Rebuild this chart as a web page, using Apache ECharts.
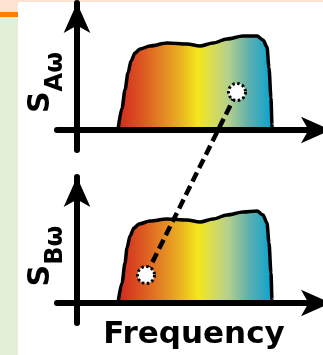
<!DOCTYPE html>
<html>
<head>
<meta charset="utf-8">
<script src="https://cdn.jsdelivr.net/npm/echarts@6/dist/echarts.min.js"></script>
<style>
  html, body { margin: 0; padding: 0; background: #ffffff; }
  #chart { width: 323px; height: 355px; }
</style>
</head>
<body>
<div id="chart"></div>
<script>
// Spectrum outline of signal A: [frequency, spectral density]
var spectrumA = [
  [2.05, 0], [2.25, 1.1], [2.4, 2.0], [2.55, 2.85], [2.7, 3.45], [2.9, 3.85], [3.15, 4.05],
  [3.65, 4.2], [4.5, 4.35], [5.5, 4.3], [6.15, 4.2], [6.8, 4.35], [7.5, 4.55],
  [8.3, 4.7], [9.0, 4.7], [9.3, 4.5], [9.5, 4.15], [9.6, 3.1], [9.7, 1.6],
  [9.75, 0.25], [9.75, 0]
];
// Spectrum outline of signal B
var spectrumB = [
  [2.05, 0], [2.25, 1.0], [2.4, 2.0], [2.5, 2.75], [2.65, 3.35], [2.85, 3.75], [3.1, 3.95],
  [3.65, 4.1], [4.5, 4.2], [5.5, 4.15], [6.15, 4.05], [6.8, 4.2], [7.5, 4.4],
  [8.3, 4.55], [9.0, 4.6], [9.3, 4.4], [9.5, 4.0], [9.6, 3.0], [9.7, 1.5],
  [9.75, 0.15], [9.75, 0]
];
// Sampled points linked between the two spectra
var pointA = [8.0, 1.9];
var pointB = [3.45, 1.4];

var axisLabelA = '{s|S}{sub|Aω}';
var axisLabelB = '{s|S}{sub|Bω}';
var freqLabel = 'Frequency';

var FONT = '"DejaVu Sans", sans-serif';

var rainbow = new echarts.graphic.LinearGradient(0, 0, 1, 0, [
  { offset: 0.00, color: '#d02a1f' },
  { offset: 0.15, color: '#dc5522' },
  { offset: 0.30, color: '#e48a24' },
  { offset: 0.42, color: '#ebb821' },
  { offset: 0.52, color: '#f3e81b' },
  { offset: 0.62, color: '#d4dc5c' },
  { offset: 0.72, color: '#b2cf8e' },
  { offset: 0.85, color: '#5eb0ad' },
  { offset: 1.00, color: '#0aa2d2' }
]);

var nameRich = {
  s: { fontFamily: FONT, fontWeight: 'bold', fontSize: 30, color: '#000' },
  sub: { fontFamily: FONT, fontWeight: 'bold', fontSize: 24, color: '#000', padding: [30, 0, 0, 0] }
};

var arrowLine = { color: '#000', width: 6 };

function xAxisFor(gridIndex, withName) {
  var ax = {
    type: 'value', gridIndex: gridIndex, min: -1, max: 12.7, z: 3,
    axisLine: { show: true, onZero: true, symbol: ['none', 'arrow'], symbolSize: [20, 30],
      lineStyle: arrowLine },
    axisTick: { show: false }, axisLabel: { show: false }, splitLine: { show: false }
  };
  if (withName) {
    ax.name = freqLabel;
    ax.nameLocation = 'middle';
    ax.nameGap = -4;
    ax.nameTextStyle = { fontFamily: FONT, fontWeight: 'bold', fontSize: 31, color: '#000' };
  }
  return ax;
}

function yAxisFor(gridIndex, max, label) {
  return {
    type: 'value', gridIndex: gridIndex, min: -1, max: max, z: 3,
    name: label, nameLocation: 'middle', nameRotate: 90, nameGap: -11,
    nameTextStyle: { rich: nameRich, padding: [0, 12, 0, 0] },
    axisLine: { show: true, onZero: true, symbol: ['none', 'arrow'], symbolSize: [20, 30],
      lineStyle: arrowLine },
    axisTick: { show: false }, axisLabel: { show: false }, splitLine: { show: false }
  };
}

function spectrumSeries(idx, data) {
  return {
    type: 'line', xAxisIndex: idx, yAxisIndex: idx, data: data,
    smooth: 0.3, smoothMonotone: 'x', showSymbol: false, z: 2,
    lineStyle: { color: '#000', width: 3.5 },
    areaStyle: { color: rainbow, opacity: 1 },
    silent: true
  };
}

function dotSeries(idx, pt) {
  return {
    type: 'scatter', xAxisIndex: idx, yAxisIndex: idx, data: [pt], z: 6,
    symbol: 'circle', symbolSize: 17,
    itemStyle: { color: '#ffffff', borderColor: '#000', borderWidth: 3, borderType: [2.5, 2.5], opacity: 1 },
    silent: true
  };
}

var chart = echarts.init(document.getElementById('chart'), null, { renderer: 'canvas' });

var backdrop = [
  { type: 'rect', id: 'topStrip', left: 0, top: 0, z: -1, shape: { width: 323, height: 2 }, style: { fill: '#fde3cf' } },
  { type: 'rect', id: 'sidePeach', left: 0, top: 0, z: -1, shape: { width: 18, height: 12 }, style: { fill: '#fde3cf' } },
  { type: 'rect', id: 'sideOrange', left: 0, top: 12, z: -1, shape: { width: 18, height: 5 }, style: { fill: '#fb7d0a' } },
  { type: 'rect', id: 'sideGreen', left: 0, top: 17, z: -1, shape: { width: 18, height: 338 }, style: { fill: '#e3f0d6' } }
];

chart.setOption({
  animation: false,
  backgroundColor: '#ffffff',
  grid: [
    { left: 57, width: 274, top: 3, height: 147, outerBoundsMode: 'none', containLabel: false },
    { left: 57, width: 274, top: 177, height: 146, outerBoundsMode: 'none', containLabel: false }
  ],
  xAxis: [xAxisFor(0, false), xAxisFor(1, true)],
  yAxis: [yAxisFor(0, 6.35, axisLabelA), yAxisFor(1, 6.3, axisLabelB)],
  series: [
    spectrumSeries(0, spectrumA),
    spectrumSeries(1, spectrumB),
    dotSeries(0, pointA),
    dotSeries(1, pointB)
  ],
  graphic: backdrop
});

// Dashed link between the two sampled points, placed through each panel's scales
var pa = chart.convertToPixel({ seriesIndex: 2 }, pointA);
var pb = chart.convertToPixel({ seriesIndex: 3 }, pointB);
chart.setOption({
  graphic: backdrop.concat([{
    type: 'line', id: 'link', z: 5, silent: true,
    shape: { x1: pa[0], y1: pa[1], x2: pb[0], y2: pb[1] },
    style: { stroke: '#000', lineWidth: 4.5, lineDash: [10, 5] }
  }])
});
</script>
</body>
</html>
